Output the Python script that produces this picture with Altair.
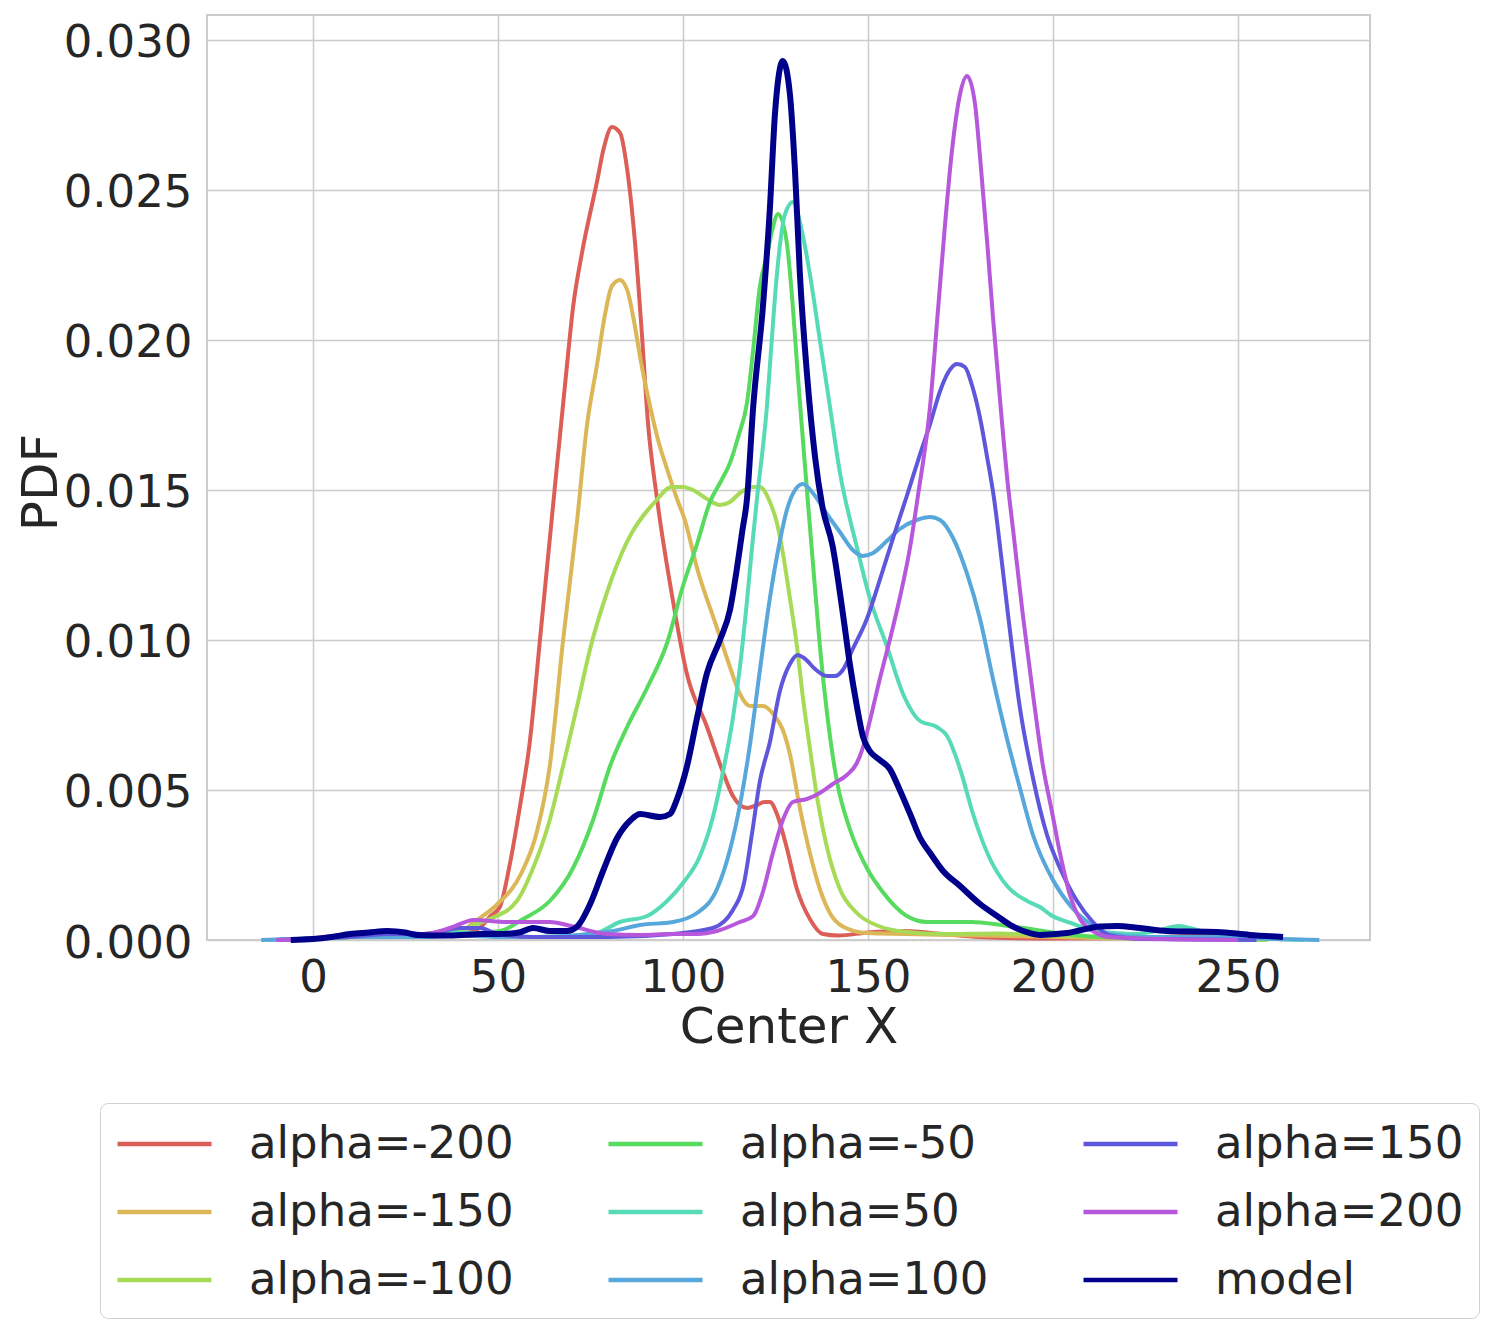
import altair as alt
import pandas as pd

SERIES = ["alpha=-200", "alpha=-150", "alpha=-100", "alpha=-50", "alpha=50",
          "alpha=100", "alpha=150", "alpha=200", "model"]
COLORS = ["#db5f57", "#dbb757", "#a7db57", "#57db5f", "#57dbb7",
          "#57a7db", "#5f57db", "#b757db", "#00008b"]

X_TICKS = [0, 50, 100, 150, 200, 250]
Y_TICKS = [0.0, 0.005, 0.010, 0.015, 0.020, 0.025, 0.030]

X_M200 = [-10, 0, 10, 20, 30, 40, 45, 48, 50.5, 53, 56, 58.5, 61.5, 64.9, 68.6, 70.3, 72.7, 76.8, 78.6, 80.8, 83, 84.9, 87, 88.9, 90.5, 93, 97.3, 101, 106.5, 110.8, 113.5, 117.3, 120, 122, 123.5, 125.4, 128, 130.8, 134.3, 137.8, 142, 150, 160, 170, 180, 200, 230, 248, 256, 262]
Y_M200 = [0, 0.00005, 0.00012, 0.0002, 0.00012, 0.0002, 0.0004, 0.0008, 0.0011, 0.0024, 0.0045, 0.0065, 0.0102, 0.0145, 0.0191, 0.0211, 0.0229, 0.0253, 0.0264, 0.0271, 0.0269, 0.0257, 0.0233, 0.0202, 0.0173, 0.0147, 0.0113, 0.0089, 0.0071, 0.0056, 0.0048, 0.0044, 0.0045, 0.0046, 0.0046, 0.0042, 0.0031, 0.0017, 0.0007, 0.0002, 0.00015, 0.00025, 0.0003, 0.0002, 0.0001, 0.00005, 0.0001, 0.0002, 0.0001, 0.00002]

X_M150 = [-8, 0, 10, 20, 30, 40, 43.5, 49.9, 56.2, 60.5, 64, 67.6, 71.4, 74, 76.8, 79, 80.8, 83, 85.1, 86.5, 88.9, 91.1, 93.2, 95.7, 98.4, 100.5, 103.8, 109.2, 112.7, 115.4, 118.1, 121.6, 124.6, 127, 128.9, 131.6, 134.3, 137, 139.7, 143.2, 149.7, 160, 180, 200, 220, 240, 258]
Y_M150 = [0, 0.00005, 0.0001, 0.00015, 0.0002, 0.0003, 0.0006, 0.0012, 0.0022, 0.0036, 0.0058, 0.0100, 0.0140, 0.0171, 0.0192, 0.0209, 0.0218, 0.0220, 0.0216, 0.0208, 0.0191, 0.0178, 0.0167, 0.0157, 0.0147, 0.0140, 0.0124, 0.0104, 0.0091, 0.0082, 0.0078, 0.0078, 0.0075, 0.0070, 0.0062, 0.0044, 0.0029, 0.0017, 0.0009, 0.00045, 0.00023, 0.0002, 0.00015, 0.0001, 0.00005, 0.00005, 0]

X_M100 = [-8, 0, 10, 20, 30, 40, 42.4, 47.8, 55.1, 59.5, 64, 67.6, 71.4, 74.9, 79.5, 85, 92.4, 97, 100, 102.7, 106.5, 110, 112.7, 115.4, 119, 120.8, 123.5, 125.4, 127, 128.9, 130.8, 132.4, 134.3, 136.2, 138.9, 142.4, 147, 153.2, 160.5, 170, 185, 200, 215, 240, 258]
Y_M100 = [0, 0.00005, 0.0001, 0.0002, 0.0002, 0.0003, 0.00045, 0.0007, 0.0013, 0.0024, 0.0040, 0.0058, 0.0078, 0.0097, 0.0116, 0.0133, 0.0146, 0.0151, 0.0151, 0.0150, 0.0147, 0.0145, 0.0146, 0.0149, 0.0151, 0.0151, 0.0146, 0.0139, 0.0129, 0.0114, 0.0098, 0.0081, 0.0064, 0.0048, 0.0031, 0.0017, 0.0009, 0.00045, 0.00027, 0.0002, 0.00022, 0.00015, 0.0001, 0.00005, 0]

X_M50 = [-10, 0, 10, 20, 30, 40, 50.5, 56.8, 64, 70.3, 75.7, 80.3, 84.9, 90.3, 95.7, 100, 103.8, 107.3, 110.3, 112.7, 115, 117.3, 119, 120.8, 122.7, 124, 125.7, 128, 129.7, 131, 132.4, 133.5, 135.1, 137, 138.9, 141.6, 145.1, 149.7, 154, 160.5, 166, 172, 178, 186, 192, 200, 210, 230, 255]
Y_M50 = [0, 0.00005, 0.0001, 0.0002, 0.0002, 0.0002, 0.0003, 0.0007, 0.0013, 0.0024, 0.0040, 0.0058, 0.0071, 0.0084, 0.0099, 0.0118, 0.0132, 0.0146, 0.0153, 0.0159, 0.0168, 0.0179, 0.0197, 0.0218, 0.0228, 0.0236, 0.0242, 0.0233, 0.0211, 0.0189, 0.0167, 0.0150, 0.0126, 0.0098, 0.0076, 0.0053, 0.0037, 0.0024, 0.0016, 0.0008, 0.0006, 0.0006, 0.0006, 0.0005, 0.0004, 0.00025, 0.00012, 0.00005, 0]

X_P50 = [-12, 0, 10, 20, 30, 40, 50, 60, 75.7, 83, 90.3, 95.7, 100, 104.6, 108.1, 110.8, 113.5, 115.4, 117.3, 118.6, 120, 122.7, 124, 125.4, 127.6, 129.7, 132.2, 134.3, 137, 139.7, 142.4, 147, 150.5, 155.1, 159.5, 164.1, 168.6, 171.4, 174.9, 178.4, 183, 187.6, 193, 196.5, 199.2, 205, 210.5, 215, 222, 228, 234, 240, 250, 260, 268]
Y_P50 = [0, 0.00005, 0.0001, 0.00015, 0.0002, 0.00025, 0.0002, 0.0001, 0.0002, 0.0006, 0.0008, 0.0013, 0.0019, 0.0028, 0.0041, 0.0056, 0.0074, 0.0091, 0.0113, 0.0130, 0.0147, 0.0178, 0.0200, 0.0222, 0.0242, 0.0246, 0.0236, 0.0222, 0.0200, 0.0178, 0.0156, 0.0131, 0.0114, 0.0098, 0.0082, 0.0073, 0.0071, 0.0068, 0.0057, 0.0042, 0.0027, 0.0018, 0.0013, 0.0011, 0.00085, 0.00056, 0.00032, 0.00025, 0.0002, 0.0003, 0.00047, 0.0003, 0.0001, 0.00003, 0]

X_P100 = [-14, 0, 10, 20, 30, 40, 50, 60, 72, 81, 88.4, 97.3, 103.8, 109.2, 112.7, 115.4, 118.1, 120.8, 123.5, 126.2, 128, 130.3, 132.4, 135.1, 138.9, 142.4, 145.9, 148.6, 151.4, 155.1, 158.6, 163.2, 166.8, 169.5, 173, 176.8, 180.3, 183.8, 187.6, 191, 194.6, 200, 205, 210.5, 215, 225, 240, 255, 272]
Y_P100 = [0, 0.00005, 0.0001, 0.0001, 0.0001, 0.00015, 0.0001, 0.0001, 0.00017, 0.0003, 0.0005, 0.0006, 0.0009, 0.0017, 0.0030, 0.0045, 0.0065, 0.0090, 0.0114, 0.0133, 0.0143, 0.0150, 0.0152, 0.0149, 0.0142, 0.0136, 0.0130, 0.0128, 0.0129, 0.0133, 0.0137, 0.0140, 0.0141, 0.0140, 0.0134, 0.0122, 0.0107, 0.0087, 0.0067, 0.0051, 0.0035, 0.0020, 0.0011, 0.0005, 0.0002, 0.0001, 0.0001, 0.00005, 0]

X_P150 = [-10, 0, 10, 20, 30, 40, 45, 50, 60, 80, 97.3, 108.1, 113.5, 116.5, 118.6, 120.8, 123.5, 126.2, 128.9, 131, 132.7, 136, 138.9, 141.1, 143.2, 145.9, 149.7, 153.2, 156.8, 160.5, 164.1, 166.8, 169.5, 171.6, 174.1, 176.2, 178.1, 180.3, 182.2, 184.1, 186, 188.1, 191, 194.6, 198.4, 201.9, 206.5, 210.8, 215.4, 225, 240, 255]
Y_P150 = [0, 0.00005, 0.0001, 0.0002, 0.0002, 0.0004, 0.0004, 0.0002, 0.0001, 0.0001, 0.0002, 0.0004, 0.0010, 0.0019, 0.0035, 0.0053, 0.0066, 0.0083, 0.0092, 0.0095, 0.0094, 0.0090, 0.0088, 0.0088, 0.0090, 0.0097, 0.0107, 0.0120, 0.0134, 0.0148, 0.0162, 0.0172, 0.0183, 0.0189, 0.0192, 0.0191, 0.0185, 0.0174, 0.0161, 0.0147, 0.0128, 0.0106, 0.0078, 0.0054, 0.0035, 0.0024, 0.0013, 0.0006, 0.00015, 0.00003, 0.00002, 0]

X_P200 = [-10, 0, 10, 20, 30, 37, 43.5, 52.4, 64, 70.3, 79.5, 88.4, 97.3, 103.8, 109.2, 115.4, 119, 121.6, 124.3, 127, 129.7, 133.5, 137, 140.5, 144.3, 147, 148.6, 150.5, 153.2, 155.9, 158.6, 161.4, 163.5, 166.8, 169, 170.8, 172.7, 174.9, 176.8, 178.9, 180.3, 182.2, 183.9, 185.7, 187.8, 189.2, 191.9, 194.6, 197.3, 199.7, 201.9, 204.6, 207.3, 210.8, 215.4, 230, 250]
Y_P200 = [0, 0.00005, 0.0002, 0.0003, 0.0002, 0.0004, 0.00067, 0.0006, 0.0006, 0.00045, 0.0002, 0.00017, 0.0002, 0.0002, 0.0003, 0.0006, 0.0008, 0.0016, 0.0029, 0.0040, 0.0046, 0.0047, 0.0049, 0.0052, 0.0055, 0.0059, 0.0064, 0.0073, 0.0087, 0.0100, 0.0114, 0.0131, 0.0148, 0.0178, 0.0211, 0.0238, 0.0263, 0.0282, 0.0288, 0.0279, 0.0261, 0.0233, 0.0206, 0.0180, 0.0152, 0.0137, 0.0108, 0.0082, 0.0058, 0.0043, 0.0029, 0.0015, 0.0007, 0.0003, 0.0001, 0.00003, 0]

X_MODEL = [-6, 0, 5, 10, 15, 20, 25, 28, 37, 46, 50, 55.7, 59.5, 64, 68.6, 71.4, 74.9, 78.4, 82.2, 85.9, 88.4, 93.8, 96.5, 98.4, 101.1, 103.8, 106.5, 110, 112.7, 114.6, 116, 117.3, 119, 121.6, 123.5, 124.9, 127, 128.9, 130.3, 131.6, 133.5, 135.7, 137.6, 140.5, 143.2, 145.1, 147, 148.6, 150.5, 153.2, 155.9, 158.6, 161.4, 164.1, 166.8, 170.3, 174.9, 180.3, 184.9, 189.2, 193.8, 196.5, 203.8, 212.7, 217.3, 223.5, 230.8, 244.3, 253.2, 262.2]
Y_MODEL = [0, 0.00003, 0.0001, 0.0002, 0.00025, 0.0003, 0.00025, 0.00017, 0.00015, 0.0002, 0.0002, 0.00025, 0.0004, 0.0003, 0.0003, 0.00045, 0.0012, 0.0023, 0.0034, 0.0040, 0.0042, 0.0041, 0.0042, 0.0047, 0.0058, 0.0074, 0.0089, 0.0100, 0.0110, 0.0124, 0.0136, 0.0147, 0.0178, 0.0211, 0.0244, 0.0276, 0.0293, 0.0282, 0.0256, 0.0222, 0.0189, 0.0161, 0.0145, 0.0131, 0.0109, 0.0092, 0.0078, 0.0068, 0.0063, 0.0060, 0.0057, 0.0050, 0.0042, 0.0034, 0.0029, 0.0023, 0.0018, 0.0012, 0.0008, 0.00045, 0.00023, 0.00017, 0.00023, 0.00045, 0.00047, 0.0004, 0.0003, 0.00027, 0.00017, 0.0001]

CURVES = [(X_M200, Y_M200), (X_M150, Y_M150), (X_M100, Y_M100), (X_M50, Y_M50),
          (X_P50, Y_P50), (X_P100, Y_P100), (X_P150, Y_P150), (X_P200, Y_P200),
          (X_MODEL, Y_MODEL)]

rows = []
for name, (xs, ys) in zip(SERIES, CURVES):
    for i, (xv, yv) in enumerate(zip(xs, ys)):
        rows.append({"series": name, "x": xv, "y": yv, "i": i})
df = pd.DataFrame(rows)

FONT = "DejaVu Sans"
TXT = "#262626"

legend = alt.Legend(
    title=None, orient="none", legendX=-107, legendY=1088, columns=3,
    padding=15, strokeColor="#d0d0d0", cornerRadius=8, fillColor="white",
    labelFontSize=45, labelFont=FONT, labelColor=TXT, labelLimit=0,
    symbolType="M-1,0L3,0", symbolSize=2209, symbolStrokeWidth=4.5,
    labelOffset=82, rowPadding=19, columnPadding=85,
)

x_enc = alt.X("x:Q", scale=alt.Scale(domain=[-28.65, 285.7], nice=False, zero=False),
              axis=alt.Axis(values=X_TICKS, title="Center X", format="d",
                            labelPadding=15, titleY=102, titleBaseline="alphabetic"))
y_enc = alt.Y("y:Q", scale=alt.Scale(domain=[0, 0.030833], nice=False, zero=False),
              axis=alt.Axis(values=Y_TICKS, title="PDF", format=".3f",
                            labelPadding=15, labelOffset=3,
                            titleX=-151, titleY=467, titleAngle=270,
                            titleAlign="center", titleBaseline="alphabetic"))
color_enc = alt.Color("series:N", scale=alt.Scale(domain=SERIES, range=COLORS), legend=legend)

base = alt.Chart(df).encode(x=x_enc, y=y_enc, color=color_enc, order="i:Q")

alphas = base.mark_line(interpolate="monotone", strokeWidth=4).transform_filter(
    alt.datum.series != "model")
model = base.mark_line(interpolate="monotone", strokeWidth=6).transform_filter(
    alt.datum.series == "model")

chart = alt.layer(alphas, model).properties(
    width=1163, height=925,
    padding={"left": 8, "top": 7, "right": 0, "bottom": 0},
    background="white",
).configure_view(
    stroke="#cccccc", strokeWidth=2
).configure_axis(
    labelFont=FONT, titleFont=FONT, labelFontSize=45, titleFontSize=50,
    labelColor=TXT, titleColor=TXT, titleFontWeight="normal",
    ticks=False, domain=False, grid=True, gridColor="#cccccc", gridWidth=1.5,
)

chart.save("out.html", embed_options={"renderer": "svg", "actions": False})
